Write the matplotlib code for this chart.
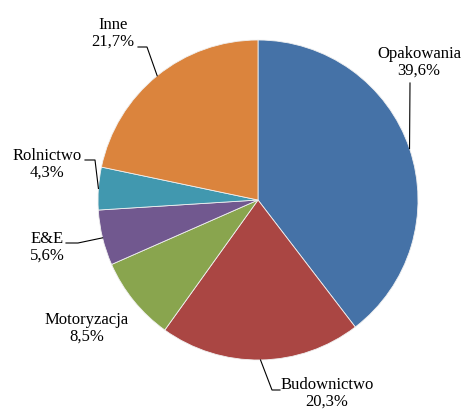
import numpy as np
import matplotlib.pyplot as plt

labels = ['Opakowania', 'Budownictwo', 'Motoryzacja', 'E&E', 'Rolnictwo', 'Inne']
shares = [39.6, 20.3, 8.5, 5.6, 4.3, 21.7]
colors = ['#4572A7', '#AA4643', '#89A54E', '#71588F', '#4198AF', '#DB843D']

# label layout in pixels of the 471x418 picture: text centre, elbow points of the leader line
text_pos = [(419, 62), (327, 393), (87, 328), (47, 247), (47, 164), (113, 33)]
leader_pts = [
    [(410, 83)],
    [(272, 390), (280, 390)],
    [],
    [(78, 243), (66, 243)],
    [(95, 160), (85, 160)],
    [(147, 47), (138, 47)],
]

CX, CY, R = 258, 200, 160


def px(x, y):
    return ((x - CX) / R, (CY - y) / R)


plt.rcParams['font.family'] = ['Liberation Serif', 'DejaVu Serif']

fig = plt.figure(figsize=(4.71, 4.18), dpi=100)
ax = fig.add_axes([0, 0, 1, 1])
wedges, _ = ax.pie(shares, colors=colors, startangle=90, counterclock=False,
                   radius=1, center=(0, 0),
                   wedgeprops=dict(edgecolor='#f0f0f0', linewidth=0.6))

for w, lab, val, tp, pts in zip(wedges, labels, shares, text_pos, leader_pts):
    mid = np.deg2rad((w.theta1 + w.theta2) / 2)
    edge = (np.cos(mid), np.sin(mid))
    if pts:
        xs = [edge[0]] + [px(*p)[0] for p in pts]
        ys = [edge[1]] + [px(*p)[1] for p in pts]
        ax.plot(xs, ys, color='black', lw=0.8)
    tx, ty = px(*tp)
    ax.text(tx, ty, f"{lab}\n{str(val).replace('.', ',')}%", ha='center', va='center',
            fontsize=12, linespacing=1.05)

ax.set_xlim(-CX / R, (471 - CX) / R)
ax.set_ylim((CY - 418) / R, CY / R)
ax.set_aspect('equal')
ax.axis('off')

fig.savefig('out.png', dpi=100)
